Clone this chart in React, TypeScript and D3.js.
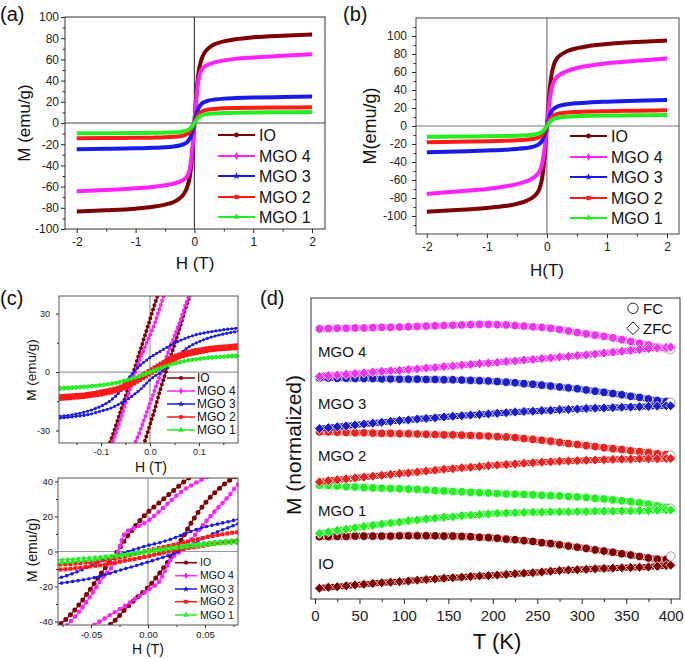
import React, { useEffect, useRef } from "react";
import * as d3 from "d3";

const FONT = "'Liberation Sans', Arial, Helvetica, sans-serif";
const W = 685;
const H = 659;

const SAMPLES = ["IO", "MGO 4", "MGO 3", "MGO 2", "MGO 1"];
const COLORS = ["#7f0000", "#ff22ff", "#1a1ae6", "#ff1a1a", "#22ee22"];
const SYMBOLS = [d3.symbolCircle, d3.symbolDiamond, d3.symbolStar, d3.symbolSquare, d3.symbolTriangle];

// ---- (a) and (b): M(H) up to ±2 T
const H_FULL = [-2, -1.5, -1, -0.7, -0.5, -0.35, -0.25, -0.18, -0.12, -0.08, -0.05, -0.025, 0, 0.025, 0.05, 0.08, 0.12, 0.18, 0.25, 0.35, 0.5, 0.7, 1, 1.5, 2];

const ioA = [-83.5, -82.4, -80.8, -79, -77, -74.5, -71, -67, -60, -51, -38, -22, 0, 22, 38, 51, 60, 67, 71, 74.5, 77, 79, 80.8, 82.4, 83.5];
const mgo4A = [-64.5, -63.3, -61.6, -60.3, -58.8, -57.1, -55.3, -53.3, -49.8, -43.8, -31.8, -17.8, 0, 18, 32, 44, 50, 53.5, 55.5, 57.3, 59, 60.5, 61.8, 63.5, 64.8];
const mgo3A = [-24.8, -24.4, -23.9, -23.4, -22.9, -22.1, -21.2, -19.9, -17.9, -14.9, -10.9, -5.9, 0, 6, 11, 15, 18, 20, 21.3, 22.2, 23, 23.5, 24, 24.5, 24.9];
const mgo2A = [-14.4, -14.2, -14, -13.8, -13.5, -13, -12.5, -11.7, -10.3, -8.4, -5.9, -3, 0, 3, 6, 8.5, 10.5, 12, 12.8, 13.3, 13.8, 14.1, 14.4, 14.6, 14.8];
const mgo1A = [-9.7, -9.6, -9.5, -9.3, -9.1, -8.8, -8.4, -7.8, -6.8, -5.4, -3.9, -2, 0, 2, 4, 5.5, 7, 8, 8.6, 9, 9.4, 9.7, 9.9, 10.1, 10.3];

const ioB = [-95.2, -93.4, -91, -89, -86.5, -83.5, -80, -76, -69, -58, -42, -24, 0, 24, 42, 58, 69, 76, 80, 83.5, 86.5, 89, 91, 93.3, 95];
const mgo4B = [-75.5, -72.8, -70, -67.2, -64.6, -61.6, -58.6, -55, -50, -42, -31, -17, 0, 17, 31, 42, 50, 55, 58.5, 61.5, 64.5, 67, 69.8, 72.5, 75];
const mgo3B = [-29.3, -28.3, -27.2, -26.4, -25.5, -24.5, -23.4, -22, -19.6, -16.5, -12, -6, 0, 6, 12, 16.5, 19.5, 21.8, 23.2, 24.3, 25.3, 26.2, 27, 28, 28.9];
const mgo2B = [-18.1, -17.5, -16.9, -16.4, -15.9, -15.2, -14.5, -13.6, -12.1, -10, -7, -3.5, 0, 3.5, 7, 10, 12, 13.5, 14.3, 15, 15.6, 16.1, 16.5, 17, 17.4];
const mgo1B = [-11.9, -11.7, -11.4, -11.1, -10.8, -10.3, -9.8, -9.1, -7.9, -6.4, -4.5, -2.5, 0, 2.5, 4.5, 6.5, 8, 9.2, 9.9, 10.4, 10.9, 11.3, 11.6, 11.9, 12.2];

// ---- (c) top: low-field loops (descending / ascending branch)
const H_TOP = [-0.2, -0.16, -0.12, -0.1, -0.08, -0.06, -0.04, -0.03, -0.02, -0.01, 0, 0.01, 0.02, 0.03, 0.04, 0.06, 0.08, 0.1, 0.12, 0.16, 0.2];
const ioTopDesc = [-66, -61, -53, -47, -35, -20, -5, 3, 11, 19, 27, 35, 42, 47, 51, 56, 60, 62, 64, 66, 68];
const ioTopAsc = [-68, -66, -64, -62, -60, -56, -51, -47, -42, -35, -27, -19, -10, -2, 6, 22, 38, 47, 53, 61, 66];
const mgo4TopDesc = [-60, -56, -51, -46, -38, -24, -8, 0, 7, 13, 19, 25, 33, 40, 45, 50, 54, 57, 59, 61, 63];
const mgo4TopAsc = [-63, -61, -58, -55, -51, -46, -40, -36, -30, -23, -16, -9, -2, 5, 12, 25, 39, 46, 51, 56, 60];
const mgo3TopDesc = [-23, -22, -19.5, -17.5, -14.5, -9.5, -2, 1, 3.5, 5.5, 7.5, 9, 10.5, 12, 13.5, 16, 18, 19.5, 20.5, 22, 23];
const mgo3TopAsc = [-24, -23, -21.5, -20, -18.5, -16, -13, -11, -9, -6.5, -4, -2, -0.5, 1.5, 4, 9, 13, 15.5, 17.5, 20, 21.5];
const mgo2TopDesc = [-12.5, -12, -11, -10, -9, -7.5, -5, -3.7, -2, -0.5, 1, 2.5, 4, 5.5, 7, 9, 10.5, 11.5, 12.3, 13.3, 14];
const mgo2TopAsc = [-14, -13.3, -12.3, -11.5, -10.5, -9, -7, -5.5, -4, -2.5, -1, 0.5, 2, 3.7, 5, 7.5, 9, 10, 11, 12, 12.5];
const mgo1TopDesc = [-8, -7.7, -7, -6.5, -5.8, -4.8, -3.4, -2.6, -1.6, -0.6, 0.4, 1.3, 2.2, 3, 3.8, 5.2, 6.3, 7, 7.6, 8.4, 9];
const mgo1TopAsc = [-9, -8.4, -7.6, -7, -6.3, -5.2, -3.8, -3, -2.2, -1.3, -0.4, 0.6, 1.6, 2.6, 3.4, 4.8, 5.8, 6.5, 7, 7.7, 8];

// ---- (c) bottom
const H_BOT = [-0.09, -0.08, -0.07, -0.06, -0.05, -0.04, -0.03, -0.02, -0.01, 0, 0.01, 0.02, 0.03, 0.04, 0.05, 0.06, 0.07, 0.08, 0.09];
const ioBotDesc = [-48, -43, -37.5, -30, -21, -11.5, -3, 7, 15.5, 22.5, 28, 33.5, 39, 44, 48, 51, 54, 56, 58];
const ioBotAsc = [-58, -56, -54, -52, -49, -45, -40, -33, -26.5, -20.5, -12.5, -3.5, 7.5, 18.5, 27.5, 34.5, 40, 44, 47.5];
const mgo4BotDesc = [-54, -48, -41.5, -34, -25, -15, -7, 10.5, 14, 17.5, 23, 29, 34.5, 38.5, 42, 45, 48, 50, 52];
const mgo4BotAsc = [-55, -52, -49, -46, -43, -39, -35, -31, -26.5, -22, -17, -4.5, 1, 8.5, 16.5, 24, 31, 39, 44];
const mgo3BotDesc = [-17, -15.5, -13.5, -11, -8, -5, -2.5, -0.5, 1.5, 3.5, 5, 7, 9.5, 12, 14, 15.5, 17, 18.5, 19.5];
const mgo3BotAsc = [-19.5, -18.5, -17.5, -16.5, -15.3, -13.8, -11.8, -9.8, -8, -6, -4, -1.8, 1, 4.5, 8, 11, 13.5, 16, 17.5];
const mgo2BotDesc = [-8, -7.6, -7.2, -6.6, -6, -5, -4, -2.8, -1.2, 0.5, 2, 3.5, 5, 6.5, 8, 9.3, 10.3, 11.2, 12];
const mgo2BotAsc = [-11, -10.5, -10, -9.3, -8.5, -7.6, -6.5, -5.2, -4, -2.7, -1.2, 0.3, 1.5, 2.5, 3.5, 4.5, 5.5, 6.7, 7.5];
const mgo1BotDesc = [-5.5, -5, -4.6, -4.1, -3.6, -3, -2.2, -1.4, -0.5, 0.5, 1.5, 2.4, 3.3, 4.1, 4.9, 5.6, 6.2, 6.8, 7.3];
const mgo1BotAsc = [-7.3, -6.8, -6.2, -5.6, -4.9, -4.1, -3.3, -2.4, -1.5, -0.5, 0.5, 1.4, 2.2, 3, 3.6, 4.1, 4.6, 5, 5.5];

// ---- (d) FC / ZFC, normalized and stacked (arbitrary offset units)
const T_K = [5, 15, 25, 35, 45, 55, 65, 75, 85, 95, 105, 115, 125, 135, 145, 155, 165, 175, 185, 195, 205, 215, 225, 235, 245, 255, 265, 275, 285, 295, 305, 315, 325, 335, 345, 355, 365, 375, 385, 395, 400];
const mgo4FC = [9.02, 9.03, 9.04, 9.04, 9.05, 9.05, 9.06, 9.07, 9.07, 9.08, 9.09, 9.1, 9.11, 9.12, 9.13, 9.14, 9.15, 9.16, 9.17, 9.17, 9.16, 9.15, 9.13, 9.11, 9.09, 9.07, 9.04, 9.0, 8.95, 8.9, 8.85, 8.81, 8.77, 8.72, 8.66, 8.6, 8.54, 8.48, 8.42, 8.36, 8.33];
const mgo4ZFC = [7.43, 7.46, 7.48, 7.5, 7.53, 7.55, 7.58, 7.6, 7.62, 7.63, 7.66, 7.68, 7.71, 7.73, 7.76, 7.78, 7.81, 7.83, 7.86, 7.88, 7.9, 7.93, 7.95, 7.98, 8.0, 8.03, 8.05, 8.08, 8.1, 8.13, 8.15, 8.18, 8.21, 8.24, 8.27, 8.3, 8.33, 8.36, 8.38, 8.4, 8.41];
const mgo3FC = [7.38, 7.38, 7.37, 7.37, 7.36, 7.36, 7.36, 7.35, 7.35, 7.34, 7.34, 7.34, 7.33, 7.33, 7.32, 7.32, 7.31, 7.3, 7.29, 7.28, 7.26, 7.24, 7.22, 7.19, 7.17, 7.14, 7.11, 7.08, 7.05, 7.02, 6.98, 6.94, 6.9, 6.86, 6.82, 6.77, 6.73, 6.68, 6.63, 6.59, 6.57];
const mgo3ZFC = [5.69, 5.72, 5.75, 5.78, 5.81, 5.84, 5.87, 5.9, 5.93, 5.96, 5.98, 6.01, 6.03, 6.05, 6.08, 6.1, 6.12, 6.14, 6.16, 6.18, 6.2, 6.22, 6.24, 6.26, 6.27, 6.29, 6.3, 6.32, 6.33, 6.34, 6.36, 6.37, 6.38, 6.39, 6.4, 6.41, 6.42, 6.43, 6.44, 6.45, 6.45];
const mgo2FC = [5.58, 5.58, 5.57, 5.56, 5.55, 5.55, 5.54, 5.53, 5.53, 5.52, 5.52, 5.51, 5.5, 5.49, 5.48, 5.48, 5.47, 5.46, 5.45, 5.44, 5.42, 5.41, 5.39, 5.36, 5.33, 5.3, 5.27, 5.23, 5.19, 5.16, 5.12, 5.09, 5.05, 5.02, 4.99, 4.95, 4.92, 4.89, 4.85, 4.82, 4.8];
const mgo2ZFC = [3.91, 3.95, 3.98, 4.01, 4.04, 4.07, 4.1, 4.13, 4.16, 4.19, 4.21, 4.24, 4.27, 4.3, 4.33, 4.35, 4.38, 4.4, 4.42, 4.45, 4.47, 4.49, 4.51, 4.53, 4.55, 4.57, 4.58, 4.6, 4.61, 4.62, 4.63, 4.64, 4.65, 4.66, 4.67, 4.67, 4.68, 4.68, 4.68, 4.69, 4.69];
const mgo1FC = [3.8, 3.79, 3.77, 3.75, 3.74, 3.72, 3.71, 3.7, 3.69, 3.68, 3.67, 3.66, 3.64, 3.62, 3.61, 3.59, 3.58, 3.56, 3.55, 3.54, 3.52, 3.51, 3.5, 3.49, 3.48, 3.46, 3.45, 3.44, 3.42, 3.41, 3.39, 3.36, 3.34, 3.31, 3.28, 3.25, 3.21, 3.17, 3.11, 3.06, 3.03];
const mgo1ZFC = [2.19, 2.24, 2.29, 2.33, 2.38, 2.42, 2.46, 2.5, 2.54, 2.57, 2.61, 2.64, 2.67, 2.7, 2.73, 2.75, 2.78, 2.8, 2.82, 2.84, 2.86, 2.87, 2.88, 2.89, 2.9, 2.9, 2.91, 2.91, 2.91, 2.92, 2.92, 2.93, 2.93, 2.93, 2.94, 2.94, 2.95, 2.95, 2.96, 2.97, 2.97];
const ioFC = [2.08, 2.08, 2.09, 2.09, 2.1, 2.1, 2.1, 2.1, 2.1, 2.11, 2.11, 2.11, 2.11, 2.11, 2.1, 2.1, 2.09, 2.08, 2.06, 2.05, 2.03, 2.0, 1.98, 1.95, 1.92, 1.88, 1.85, 1.81, 1.77, 1.73, 1.69, 1.64, 1.6, 1.56, 1.51, 1.47, 1.42, 1.37, 1.33, 1.32, 1.43];
const ioZFC = [0.36, 0.39, 0.41, 0.44, 0.47, 0.49, 0.52, 0.54, 0.56, 0.58, 0.6, 0.63, 0.65, 0.67, 0.69, 0.71, 0.73, 0.75, 0.77, 0.78, 0.8, 0.82, 0.84, 0.86, 0.88, 0.9, 0.93, 0.95, 0.97, 0.98, 0.99, 1.01, 1.02, 1.03, 1.04, 1.05, 1.06, 1.07, 1.09, 1.12, 1.13];

type G = d3.Selection<SVGGElement, unknown, null, undefined>;
type Svg = d3.Selection<SVGSVGElement, unknown, null, undefined>;

interface PanelSpec {
  id: string;
  x: number; y: number; w: number; h: number;
  xDomain: [number, number]; yDomain: [number, number];
  xTicks: number[]; xMinor: number[];
  yTicks: number[]; yMinor: number[];
  xFmt: (v: number) => string; yFmt: (v: number) => string;
  font: number; xPad: number; yPad: number;
  tick: number; minor: number;
  frame: string; zero: string | null;
}

function makePanel(svg: Svg, s: PanelSpec) {
  const xs = d3.scaleLinear().domain(s.xDomain).range([0, s.w]);
  const ys = d3.scaleLinear().domain(s.yDomain).range([s.h, 0]);
  svg.select<SVGDefsElement>("defs").append("clipPath").attr("id", s.id)
    .append("rect").attr("width", s.w).attr("height", s.h);
  const g = svg.append("g").attr("transform", `translate(${s.x},${s.y})`);

  const styleAxis = (a: G) => {
    a.attr("font-family", FONT).attr("font-size", s.font).attr("color", "#222");
    a.select(".domain").remove();
  };
  if (s.yTicks.length) {
    g.append("g").call(d3.axisLeft(ys).tickValues(s.yTicks).tickFormat((v) => s.yFmt(+v))
      .tickSize(s.tick).tickPadding(s.yPad)).call(styleAxis);
    g.append("g").call(d3.axisLeft(ys).tickValues(s.yMinor).tickFormat(() => "")
      .tickSize(s.minor)).call(styleAxis);
  }
  g.append("g").attr("transform", `translate(0,${s.h})`)
    .call(d3.axisBottom(xs).tickValues(s.xTicks).tickFormat((v) => s.xFmt(+v))
      .tickSize(s.tick).tickPadding(s.xPad)).call(styleAxis);
  g.append("g").attr("transform", `translate(0,${s.h})`)
    .call(d3.axisBottom(xs).tickValues(s.xMinor).tickFormat(() => "")
      .tickSize(s.minor)).call(styleAxis);

  const plot = g.append("g").attr("clip-path", `url(#${s.id})`);
  if (s.zero) {
    plot.append("line").attr("x1", xs(0)).attr("x2", xs(0)).attr("y1", 0).attr("y2", s.h)
      .attr("stroke", s.zero).attr("stroke-width", 1.2);
    plot.append("line").attr("x1", 0).attr("x2", s.w).attr("y1", ys(0)).attr("y2", ys(0))
      .attr("stroke", s.zero).attr("stroke-width", 1.2);
  }
  const finish = () => {
    g.append("rect").attr("width", s.w).attr("height", s.h)
      .attr("fill", "none").attr("stroke", s.frame).attr("stroke-width", 1);
  };
  return { g, plot, xs, ys, finish };
}

function text(parent: G | Svg, x: number, y: number, str: string, size: number,
  anchor = "start", rotate = false) {
  const t = (parent as G).append("text")
    .attr("font-family", FONT).attr("font-size", size).attr("fill", "#111")
    .attr("text-anchor", anchor).text(str);
  if (rotate) {
    t.attr("transform", `translate(${x},${y}) rotate(-90)`).attr("dominant-baseline", "central");
  } else {
    t.attr("x", x).attr("y", y);
  }
  return t;
}

function legend(parent: Svg, x0: number, x1: number, rows: number[], tx: number,
  size: number, lw: number, sym: number) {
  SAMPLES.forEach((name, i) => {
    const y = rows[i];
    parent.append("line").attr("x1", x0).attr("x2", x1).attr("y1", y).attr("y2", y)
      .attr("stroke", COLORS[i]).attr("stroke-width", lw);
    parent.append("path").attr("d", d3.symbol(SYMBOLS[i], sym)())
      .attr("transform", `translate(${(x0 + x1) / 2},${y})`).attr("fill", COLORS[i]);
    text(parent, tx, y + size * 0.36, name, size);
  });
}

interface Dot { size: number; gap: number; cap: string }

const App: React.FC = () => {
  const ref = useRef<SVGSVGElement>(null);

  useEffect(() => {
    if (!ref.current) return;
    const svg = d3.select(ref.current) as unknown as Svg;
    svg.selectAll("*").remove();
    svg.append("defs");

    const intFmt = (v: number) => String(v);

    // ---------- (a) and (b)
    const fullPanels = [
      {
        spec: {
          id: "clipA", x: 65, y: 17, w: 260, h: 212,
          xDomain: [-2.2, 2.22], yDomain: [-100, 100],
          xTicks: [-2, -1, 0, 1, 2], xMinor: [-1.5, -0.5, 0.5, 1.5],
          yTicks: d3.range(-100, 101, 20), yMinor: d3.range(-90, 91, 20),
          xFmt: intFmt, yFmt: intFmt, font: 12, xPad: 4, yPad: 2,
          tick: 4, minor: 2.5, frame: "#333", zero: "#444",
        } as PanelSpec,
        data: [ioA, mgo4A, mgo3A, mgo2A, mgo1A],
      },
      {
        spec: {
          id: "clipB", x: 416, y: 18, w: 263, h: 216,
          xDomain: [-2.18, 2.2], yDomain: [-120, 120],
          xTicks: [-2, -1, 0, 1, 2], xMinor: [-1.5, -0.5, 0.5, 1.5],
          yTicks: d3.range(-100, 101, 20), yMinor: d3.range(-110, 111, 20),
          xFmt: intFmt, yFmt: intFmt, font: 12, xPad: 4, yPad: 5,
          tick: 4, minor: 2.5, frame: "#444", zero: "#777",
        } as PanelSpec,
        data: [ioB, mgo4B, mgo3B, mgo2B, mgo1B],
      },
    ];
    fullPanels.forEach(({ spec, data }) => {
      const p = makePanel(svg, spec);
      const line = d3.line<number>().x((_, i) => p.xs(H_FULL[i])).y((d) => p.ys(d))
        .curve(d3.curveMonotoneX);
      data.forEach((m, i) => {
        p.plot.append("path").attr("d", line(m)).attr("fill", "none")
          .attr("stroke", COLORS[i]).attr("stroke-width", 4).attr("stroke-linejoin", "round");
      });
      p.finish();
    });
    legend(svg, 218, 255, [135, 156, 176, 197, 217], 259, 16, 2.2, 18);
    legend(svg, 570, 607, [136, 157, 177, 198, 218], 611, 16, 2.2, 18);

    text(svg, 0, 21, "(a)", 20);
    text(svg, 343, 21, "(b)", 20);
    text(svg, 24, 123, "M (emu/g)", 17, "middle", true);
    text(svg, 195, 269, "H (T)", 17, "middle");
    text(svg, 370, 126, "M(emu/g)", 18, "middle", true);
    text(svg, 547, 276, "H(T)", 17, "middle");

    // ---------- (c) low-field loops
    const loopPanels = [
      {
        spec: {
          id: "clipC1", x: 59, y: 296, w: 179, h: 147,
          xDomain: [-0.186, 0.18], yDomain: [-36.4, 39],
          xTicks: [-0.1, 0, 0.1], xMinor: [-0.15, -0.05, 0.05, 0.15],
          yTicks: [-30, 0, 30], yMinor: [-15, 15],
          xFmt: (v: number) => v.toFixed(1), yFmt: intFmt, font: 9, xPad: 3, yPad: 6,
          tick: 3, minor: 2, frame: "#555", zero: "#999",
        } as PanelSpec,
        hs: H_TOP,
        data: [
          [ioTopDesc, ioTopAsc], [mgo4TopDesc, mgo4TopAsc], [mgo3TopDesc, mgo3TopAsc],
          [mgo2TopDesc, mgo2TopAsc], [mgo1TopDesc, mgo1TopAsc],
        ],
        dots: [
          { size: 4, gap: 4.5, cap: "round" }, { size: 4, gap: 4.5, cap: "round" },
          { size: 3.2, gap: 4, cap: "round" }, { size: 4, gap: 3.5, cap: "square" },
          { size: 3.6, gap: 4, cap: "round" },
        ] as Dot[],
        rows: [378, 391, 404, 417, 430], lx: [167, 195], tx: 197, lf: 12,
      },
      {
        spec: {
          id: "clipC2", x: 58, y: 478, w: 180, h: 147,
          xDomain: [-0.079, 0.079], yDomain: [-42, 42],
          xTicks: [-0.05, 0, 0.05], xMinor: [-0.075, -0.025, 0.025, 0.075],
          yTicks: [-40, -20, 0, 20, 40], yMinor: [-30, -10, 10, 30],
          xFmt: (v: number) => v.toFixed(2), yFmt: intFmt, font: 9.5, xPad: 3, yPad: 2,
          tick: 3, minor: 2, frame: "#555", zero: "#999",
        } as PanelSpec,
        hs: H_BOT,
        data: [
          [ioBotDesc, ioBotAsc], [mgo4BotDesc, mgo4BotAsc], [mgo3BotDesc, mgo3BotAsc],
          [mgo2BotDesc, mgo2BotAsc], [mgo1BotDesc, mgo1BotAsc],
        ],
        dots: [
          { size: 5, gap: 6.5, cap: "round" }, { size: 4.6, gap: 6, cap: "round" },
          { size: 3.6, gap: 5.5, cap: "round" }, { size: 4, gap: 5, cap: "square" },
          { size: 4, gap: 5.5, cap: "round" },
        ] as Dot[],
        rows: [562.7, 575.7, 589, 601.7, 615], lx: [175, 197], tx: 200, lf: 10.5,
      },
    ];
    loopPanels.forEach(({ spec, hs, data, dots, rows, lx, tx, lf }) => {
      const p = makePanel(svg, spec);
      const line = d3.line<number>().x((_, i) => p.xs(hs[i])).y((d) => p.ys(d))
        .curve(d3.curveMonotoneX);
      data.forEach((branches, i) => {
        branches.forEach((m) => {
          p.plot.append("path").attr("d", line(m)).attr("fill", "none")
            .attr("stroke", COLORS[i]).attr("stroke-width", 1.2);
          p.plot.append("path").attr("d", line(m)).attr("fill", "none")
            .attr("stroke", COLORS[i]).attr("stroke-width", dots[i].size)
            .attr("stroke-linecap", dots[i].cap)
            .attr("stroke-dasharray", `0 ${dots[i].gap}`);
        });
      });
      p.finish();
      legend(svg, lx[0], lx[1], rows, tx, lf, 1.5, 14);
    });
    text(svg, 0, 305, "(c)", 20);
    text(svg, 31, 370, "M (emu/g)", 13.5, "middle", true);
    text(svg, 151, 472, "H (T)", 14, "middle");
    text(svg, 32, 550, "M (emu/g)", 14, "middle", true);
    text(svg, 148, 654, "H (T)", 14, "middle");

    // ---------- (d) FC / ZFC
    const d = makePanel(svg, {
      id: "clipD", x: 311, y: 298, w: 369, h: 301,
      xDomain: [-4.5, 410.5], yDomain: [0, 10.05],
      xTicks: d3.range(0, 401, 50), xMinor: d3.range(25, 400, 50),
      yTicks: [], yMinor: [],
      xFmt: intFmt, yFmt: intFmt, font: 15, xPad: 6,
      yPad: 0, tick: 5, minor: 3, frame: "#333", zero: null,
    });
    const curves = [
      { fc: ioFC, zfc: ioZFC, c: COLORS[0] },
      { fc: mgo1FC, zfc: mgo1ZFC, c: COLORS[4] },
      { fc: mgo2FC, zfc: mgo2ZFC, c: "#e8231f" },
      { fc: mgo3FC, zfc: mgo3ZFC, c: "#1d1dc8" },
      { fc: mgo4FC, zfc: mgo4ZFC, c: "#ee33ee" },
    ];
    const dLine = d3.line<number>().x((_, i) => d.xs(T_K[i])).y((v) => d.ys(v))
      .curve(d3.curveMonotoneX);
    const diamond = (r: number) => `M0,${-r}L${r},0L0,${r}L${-r},0Z`;
    curves.forEach(({ fc, zfc, c }) => {
      d.plot.append("path").attr("d", dLine(fc)).attr("fill", "none")
        .attr("stroke", c).attr("stroke-width", 6);
      fc.forEach((v, i) => {
        const last = i === fc.length - 1;
        d.plot.append("circle").attr("cx", d.xs(T_K[i])).attr("cy", d.ys(v)).attr("r", 4.3)
          .attr("fill", last ? "#fff" : c).attr("stroke", last ? "#888" : "#fff")
          .attr("stroke-width", 0.8);
      });
      d.plot.append("path").attr("d", dLine(zfc)).attr("fill", "none")
        .attr("stroke", c).attr("stroke-width", 6);
      zfc.forEach((v, i) => {
        d.plot.append("path").attr("d", diamond(5))
          .attr("transform", `translate(${d.xs(T_K[i])},${d.ys(v)})`)
          .attr("fill", c).attr("stroke", "#fff").attr("stroke-width", 0.8);
      });
    });
    d.finish();

    const labelsD = [
      { t: "MGO 4", y: 357 }, { t: "MGO 3", y: 408.5 }, { t: "MGO 2", y: 461 },
      { t: "MGO 1", y: 515.5 }, { t: "IO", y: 568.5 },
    ];
    labelsD.forEach((l) => text(svg, 318, l.y, l.t, 15));
    svg.append("circle").attr("cx", 633).attr("cy", 308.3).attr("r", 5.2)
      .attr("fill", "#fff").attr("stroke", "#222").attr("stroke-width", 1);
    text(svg, 643, 313.5, "FC", 15);
    svg.append("path").attr("d", diamond(6.3)).attr("transform", "translate(633,328.3)")
      .attr("fill", "#fff").attr("stroke", "#222").attr("stroke-width", 1);
    text(svg, 643, 333.5, "ZFC", 15);

    text(svg, 260, 305, "(d)", 20);
    text(svg, 293, 445, "M (normalized)", 21, "middle", true);
    text(svg, 497, 649, "T (K)", 22, "middle");
  }, []);

  return (
    <svg
      ref={ref}
      width={W}
      height={H}
      style={{ position: "absolute", left: 0, top: 0, background: "#fff" }}
    />
  );
};

export default App;
